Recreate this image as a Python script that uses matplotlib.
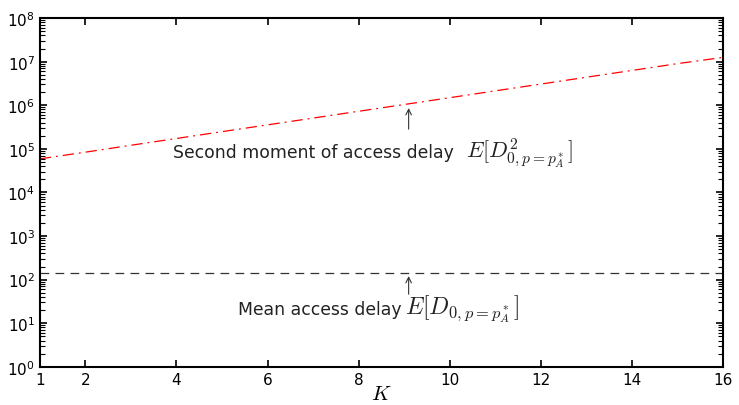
import matplotlib
matplotlib.use("Agg")
import matplotlib.pyplot as plt
from matplotlib.ticker import FixedLocator, LogLocator, NullFormatter

plt.rcParams['mathtext.fontset'] = 'cm'

# data
K = [1, 2, 3, 4, 5, 6, 7, 8, 9, 10, 11, 12, 13, 14, 15, 16]
second_moment = [5.9e4, 8.4e4, 1.21e5, 1.73e5, 2.48e5, 3.55e5, 5.08e5, 7.28e5,
                 1.04e6, 1.49e6, 2.14e6, 3.06e6, 4.39e6, 6.28e6, 9.0e6, 1.25e7]
mean_delay = [140] * len(K)

xticks = [1, 2, 4, 6, 8, 10, 12, 14, 16]

fig = plt.figure(figsize=(7.39, 4.06), dpi=100)
ax = fig.add_axes([0.054, 0.094, 0.924, 0.859])

ax.plot(K, second_moment, color="red", lw=0.9, linestyle=(0, (9, 4, 1.5, 4)))
ax.plot(K, mean_delay, color="#333333", lw=0.9, linestyle=(0, (7, 5)))

ax.set_yscale("log")
ax.set_xlim(1, 16)
ax.set_ylim(1, 1e8)
ax.set_xticks(xticks)
ax.yaxis.set_major_locator(LogLocator(base=10, numticks=100))
minor = [m * 10.0**e for e in range(8) for m in range(2, 10)]
ax.yaxis.set_minor_locator(FixedLocator(minor))
ax.yaxis.set_minor_formatter(NullFormatter())
ax.tick_params(which="both", direction="in", top=True, right=True, labelsize=11)
ax.tick_params(which="major", length=5, width=1.2)
ax.tick_params(which="minor", length=3.5, width=0.8)
for s in ax.spines.values():
    s.set_linewidth(1.5)

ax.set_xlabel(r"$K$", fontsize=15, labelpad=-3)

# second moment label + arrow
ax.annotate("", xy=(9.1, 1.0e6), xytext=(9.1, 2.45e5),
            arrowprops=dict(arrowstyle="->", color="#333333", lw=0.8))
ax.text(3.92, 6.56e4, "Second moment of access delay",
        fontsize=12.4, va="baseline", ha="left", color="#222222")
ax.text(10.36, 6.56e4, r"$E[D^2_{0,p=p^*_A}]$",
        fontsize=16, va="baseline", ha="left", color="#222222")

# mean label + arrow
ax.annotate("", xy=(9.1, 140), xytext=(9.1, 40),
            arrowprops=dict(arrowstyle="->", color="#333333", lw=0.8))
ax.text(5.35, 16.4, "Mean access delay",
        fontsize=12.4, va="baseline", ha="left", color="#222222")
ax.text(9.02, 16.4, r"$E[D_{0,p=p^*_A}]$",
        fontsize=17, va="baseline", ha="left", color="#222222")

fig.savefig("out.png", dpi=100)
